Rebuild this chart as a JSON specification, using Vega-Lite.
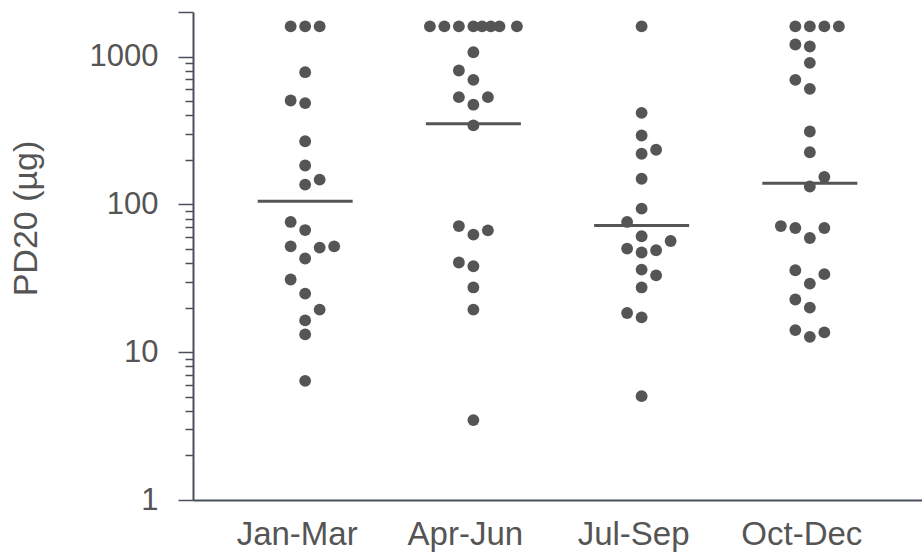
{
  "$schema": "https://vega.github.io/schema/vega-lite/v6.json",
  "width": 729,
  "height": 488,
  "autosize": {"type": "none"},
  "padding": {"left": 193, "top": 12, "right": 0, "bottom": 55},
  "background": "white",
  "config": {
    "view": {"stroke": null},
    "font": "Liberation Sans",
    "axis": {"grid": false, "domainColor": "#4a4f5c", "domainWidth": 2, "tickColor": "#4a4f5c", "labelColor": "#555555", "titleColor": "#555555", "labelFont": "Liberation Sans", "titleFont": "Liberation Sans", "titleFontWeight": "normal"}
  },
  "datasets": {
    "points": [
      {"season": "Jan-Mar", "pd20": 1600, "slot": -1},
      {"season": "Jan-Mar", "pd20": 1600, "slot": 0},
      {"season": "Jan-Mar", "pd20": 1600, "slot": 1},
      {"season": "Jan-Mar", "pd20": 783, "slot": 0},
      {"season": "Jan-Mar", "pd20": 504, "slot": -1},
      {"season": "Jan-Mar", "pd20": 484, "slot": 0},
      {"season": "Jan-Mar", "pd20": 267, "slot": 0},
      {"season": "Jan-Mar", "pd20": 183, "slot": 0},
      {"season": "Jan-Mar", "pd20": 147, "slot": 1},
      {"season": "Jan-Mar", "pd20": 136, "slot": 0},
      {"season": "Jan-Mar", "pd20": 76, "slot": -1},
      {"season": "Jan-Mar", "pd20": 67, "slot": 0},
      {"season": "Jan-Mar", "pd20": 52, "slot": -1},
      {"season": "Jan-Mar", "pd20": 51, "slot": 1},
      {"season": "Jan-Mar", "pd20": 52, "slot": 2},
      {"season": "Jan-Mar", "pd20": 43, "slot": 0},
      {"season": "Jan-Mar", "pd20": 31, "slot": -1},
      {"season": "Jan-Mar", "pd20": 24.9, "slot": 0},
      {"season": "Jan-Mar", "pd20": 19.4, "slot": 1},
      {"season": "Jan-Mar", "pd20": 16.4, "slot": 0},
      {"season": "Jan-Mar", "pd20": 13.2, "slot": 0},
      {"season": "Jan-Mar", "pd20": 6.4, "slot": 0},
      {"season": "Apr-Jun", "pd20": 1600, "slot": -3},
      {"season": "Apr-Jun", "pd20": 1600, "slot": -2},
      {"season": "Apr-Jun", "pd20": 1600, "slot": -1},
      {"season": "Apr-Jun", "pd20": 1600, "slot": 0},
      {"season": "Apr-Jun", "pd20": 1600, "slot": 0.6},
      {"season": "Apr-Jun", "pd20": 1600, "slot": 1.2},
      {"season": "Apr-Jun", "pd20": 1600, "slot": 1.8},
      {"season": "Apr-Jun", "pd20": 1600, "slot": 3},
      {"season": "Apr-Jun", "pd20": 1069, "slot": 0},
      {"season": "Apr-Jun", "pd20": 804, "slot": -1},
      {"season": "Apr-Jun", "pd20": 695, "slot": 0},
      {"season": "Apr-Jun", "pd20": 531, "slot": -1},
      {"season": "Apr-Jun", "pd20": 531, "slot": 1},
      {"season": "Apr-Jun", "pd20": 472, "slot": 0},
      {"season": "Apr-Jun", "pd20": 342, "slot": 0},
      {"season": "Apr-Jun", "pd20": 71.3, "slot": -1},
      {"season": "Apr-Jun", "pd20": 66.7, "slot": 1},
      {"season": "Apr-Jun", "pd20": 62.4, "slot": 0},
      {"season": "Apr-Jun", "pd20": 40.4, "slot": -1},
      {"season": "Apr-Jun", "pd20": 38.1, "slot": 0},
      {"season": "Apr-Jun", "pd20": 27.4, "slot": 0},
      {"season": "Apr-Jun", "pd20": 19.4, "slot": 0},
      {"season": "Apr-Jun", "pd20": 3.47, "slot": 0},
      {"season": "Jul-Sep", "pd20": 1600, "slot": 0},
      {"season": "Jul-Sep", "pd20": 416, "slot": 0},
      {"season": "Jul-Sep", "pd20": 292, "slot": 0},
      {"season": "Jul-Sep", "pd20": 220, "slot": 0},
      {"season": "Jul-Sep", "pd20": 234, "slot": 1},
      {"season": "Jul-Sep", "pd20": 149, "slot": 0},
      {"season": "Jul-Sep", "pd20": 93.5, "slot": 0},
      {"season": "Jul-Sep", "pd20": 76, "slot": -1},
      {"season": "Jul-Sep", "pd20": 60.8, "slot": 0},
      {"season": "Jul-Sep", "pd20": 56.5, "slot": 2},
      {"season": "Jul-Sep", "pd20": 50.2, "slot": -1},
      {"season": "Jul-Sep", "pd20": 47.2, "slot": 0},
      {"season": "Jul-Sep", "pd20": 48.9, "slot": 1},
      {"season": "Jul-Sep", "pd20": 36.2, "slot": 0},
      {"season": "Jul-Sep", "pd20": 33.1, "slot": 1},
      {"season": "Jul-Sep", "pd20": 27.4, "slot": 0},
      {"season": "Jul-Sep", "pd20": 18.4, "slot": -1},
      {"season": "Jul-Sep", "pd20": 17.2, "slot": 0},
      {"season": "Jul-Sep", "pd20": 5.04, "slot": 0},
      {"season": "Oct-Dec", "pd20": 1600, "slot": -1},
      {"season": "Oct-Dec", "pd20": 1600, "slot": 0},
      {"season": "Oct-Dec", "pd20": 1600, "slot": 1},
      {"season": "Oct-Dec", "pd20": 1600, "slot": 2},
      {"season": "Oct-Dec", "pd20": 1205, "slot": -1},
      {"season": "Oct-Dec", "pd20": 1169, "slot": 0},
      {"season": "Oct-Dec", "pd20": 906, "slot": 0},
      {"season": "Oct-Dec", "pd20": 695, "slot": -1},
      {"season": "Oct-Dec", "pd20": 604, "slot": 0},
      {"season": "Oct-Dec", "pd20": 311, "slot": 0},
      {"season": "Oct-Dec", "pd20": 225, "slot": 0},
      {"season": "Oct-Dec", "pd20": 153, "slot": 1},
      {"season": "Oct-Dec", "pd20": 132, "slot": 0},
      {"season": "Oct-Dec", "pd20": 71.3, "slot": -2},
      {"season": "Oct-Dec", "pd20": 69.2, "slot": -1},
      {"season": "Oct-Dec", "pd20": 59.2, "slot": 0},
      {"season": "Oct-Dec", "pd20": 69.2, "slot": 1},
      {"season": "Oct-Dec", "pd20": 35.8, "slot": -1},
      {"season": "Oct-Dec", "pd20": 33.7, "slot": 1},
      {"season": "Oct-Dec", "pd20": 29.1, "slot": 0},
      {"season": "Oct-Dec", "pd20": 22.7, "slot": -1},
      {"season": "Oct-Dec", "pd20": 20.0, "slot": 0},
      {"season": "Oct-Dec", "pd20": 14.1, "slot": -1},
      {"season": "Oct-Dec", "pd20": 12.7, "slot": 0},
      {"season": "Oct-Dec", "pd20": 13.6, "slot": 1}
    ],
    "medians": [
      {"season": "Jan-Mar", "median": 105},
      {"season": "Apr-Jun", "median": 351},
      {"season": "Jul-Sep", "median": 72},
      {"season": "Oct-Dec", "median": 139}
    ]
  },
  "encoding": {
    "x": {
      "field": "season",
      "type": "nominal",
      "sort": ["Jan-Mar", "Apr-Jun", "Jul-Sep", "Oct-Dec"],
      "scale": {"domain": ["Jan-Mar", "Apr-Jun", "Jul-Sep", "Oct-Dec"], "paddingInner": 0, "paddingOuter": 0.1667},
      "axis": {"title": null, "labelAngle": 0, "ticks": false, "tickSize": 0, "labelPadding": 18, "labelOffset": -8, "labelFontSize": 33, "labelBaseline": "top"}
    }
  },
  "layer": [
    {
      "data": {"name": "points"},
      "mark": {"type": "circle", "size": 140, "opacity": 1, "color": "#555555"},
      "encoding": {
        "xOffset": {"field": "slot", "type": "quantitative", "scale": {"domain": [-5.8, 5.8], "nice": false, "zero": false}},
        "y": {
          "field": "pd20",
          "type": "quantitative",
          "scale": {"type": "log", "domain": [1, 2000], "nice": false},
          "axis": {
            "title": "PD20 (µg)",
            "titleFontSize": 34,
            "titleX": -150,
            "titleY": 206,
            "labelFontSize": 31,
            "labelPadding": 20,
            "tickWidth": 1.5,
            "tickSize": {"condition": {"test": "indexof([1,10,100,1000,2000], datum.value) >= 0", "value": 15}, "value": 8},
            "values": [1,2,3,4,5,6,7,8,9,10,20,30,40,50,60,70,80,90,100,200,300,400,500,600,700,800,900,1000,2000],
            "labelExpr": "indexof([1,10,100,1000], datum.value) >= 0 ? '' + datum.value : ''"
          }
        }
      }
    },
    {
      "data": {"name": "medians"},
      "mark": {"type": "tick", "size": 95, "thickness": 3, "opacity": 1, "color": "#555555"},
      "encoding": {
        "y": {"field": "median", "type": "quantitative"}
      }
    }
  ]
}
